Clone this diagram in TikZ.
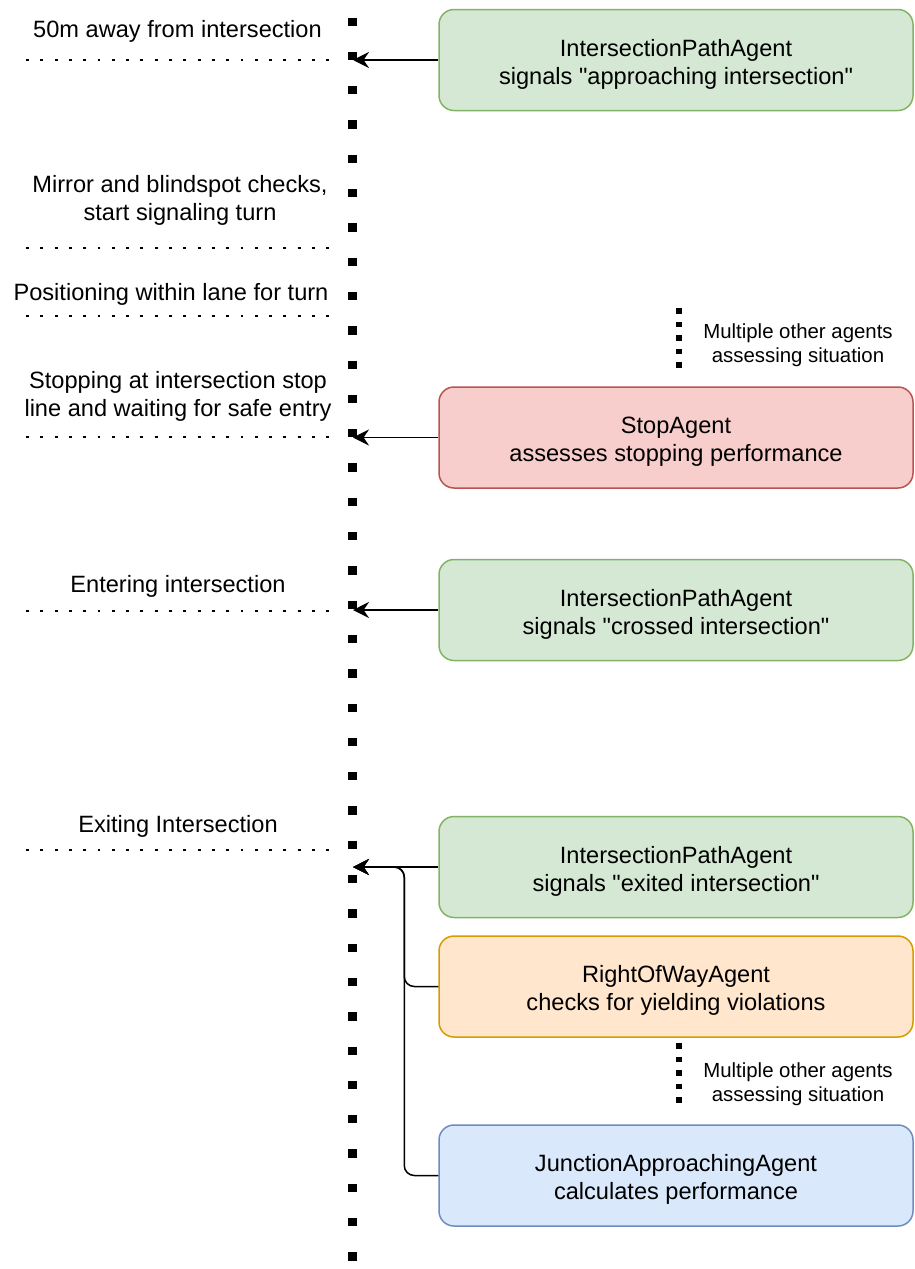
\documentclass[tikz,border=0pt]{standalone}
\usepackage{fontspec}
\setmainfont{Liberation Sans}[Ligatures=TeXOff]
\usetikzlibrary{arrows.meta}
\definecolor{gfill}{HTML}{D5E8D4}\definecolor{gline}{HTML}{82B366}
\definecolor{rfill}{HTML}{F8CECC}\definecolor{rline}{HTML}{B85450}
\definecolor{ofill}{HTML}{FFE6CC}\definecolor{oline}{HTML}{D79B00}
\definecolor{bfill}{HTML}{DAE8FC}\definecolor{bline}{HTML}{6C8EBF}
\newcommand{\twol}[2]{\begin{tabular}[t]{@{}c@{}}#1\\#2\end{tabular}}
\begin{document}
\begin{tikzpicture}[x=0.5pt,y=-0.5pt,
  mainfont/.style={font=\fontsize{11.8}{14}\selectfont},
  smallfont/.style={font=\fontsize{10.2}{12}\selectfont},
  agentbox/.style={mainfont, draw, rounded corners=7.5pt, line width=0.75pt,
    minimum width=237pt, minimum height=50.5pt, inner sep=0pt,
    text height=10pt, text depth=14pt},
  greenbox/.style={agentbox, fill=gfill, draw=gline},
  redbox/.style={agentbox, fill=rfill, draw=rline},
  orangebox/.style={agentbox, fill=ofill, draw=oline},
  bluebox/.style={agentbox, fill=bfill, draw=bline},
  phase/.style={mainfont, anchor=base, inner sep=0pt},
  note/.style={smallfont, anchor=base, inner sep=0pt},
  hdots/.style={line width=1.45pt, dash pattern=on 1.45pt off 5.7pt},
  timeline/.style={line width=4.15pt, dash pattern=on 4.15pt off 13pt},
  smalldots/.style={line width=3pt, dash pattern=on 2.75pt off 4pt},
  arr/.style={line width=0.75pt, -{Stealth[length=8pt,width=8pt,inset=2.7pt]}},
  elbow/.style={arr, rounded corners=5pt}
]
\useasboundingbox (0,0) rectangle (915,1269);

% timeline
\draw[timeline] (352.5,17.5) -- (352.5,1262);

% phase labels and separators
\node[phase] (l1) at (177.5,37) {50m away from intersection};
\draw[hdots] (26,60) -- (332,60);
\node[phase] (l2) at (180,192) {\twol{Mirror and blindspot checks,}{start signaling turn}};
\draw[hdots] (26,248) -- (332,248);
\node[phase] (l3) at (171,300) {Positioning within lane for turn};
\draw[hdots] (26,316) -- (332,316);
\node[phase] (l4) at (178,388) {\twol{Stopping at intersection stop}{line and waiting for safe entry}};
\draw[hdots] (26,437) -- (332,437);
\node[phase] (l5) at (178,592) {Entering intersection};
\draw[hdots] (26,611) -- (332,611);
\node[phase] (l6) at (178,832) {Exiting Intersection};
\draw[hdots] (26,850) -- (332,850);

% agent boxes
\node[greenbox] (b1) at (676,60) {\twol{IntersectionPathAgent}{signals "approaching intersection"}};
\node[redbox] (b2) at (676,437.5) {\twol{StopAgent}{assesses stopping performance}};
\node[greenbox] (b3) at (676,610) {\twol{IntersectionPathAgent}{signals "crossed intersection"}};
\node[greenbox] (b4) at (676,867) {\twol{IntersectionPathAgent}{signals "exited intersection"}};
\node[orangebox] (b5) at (676,986.5) {\twol{RightOfWayAgent}{checks for yielding violations}};
\node[bluebox] (b6) at (676,1175.5) {\twol{JunctionApproachingAgent}{calculates performance}};

% other agents notes
\draw[smalldots] (678.5,308) -- (678.5,367.5);
\node[note] (m1) at (798,338) {\twol{Multiple other agents}{assessing situation}};
\draw[smalldots] (678.5,1043) -- (678.5,1102.5);
\node[note] (m2) at (798,1077) {\twol{Multiple other agents}{assessing situation}};

% connectors
\coordinate (p1) at (353,60);
\coordinate (p2) at (353,437.5);
\coordinate (p3) at (353,610);
\coordinate (p4) at (353,867);
\draw[arr] (b1.west) -- (p1);
\draw[arr] (b2.west) -- (p2);
\draw[arr] (b3.west) -- (p3);
\draw[arr] (b4.west) -- (p4);
\draw[elbow] (b5.west) -- ++(-34,0) |- (p4);
\draw[elbow] (b6.west) -- ++(-34,0) |- (p4);
\end{tikzpicture}
\end{document}
